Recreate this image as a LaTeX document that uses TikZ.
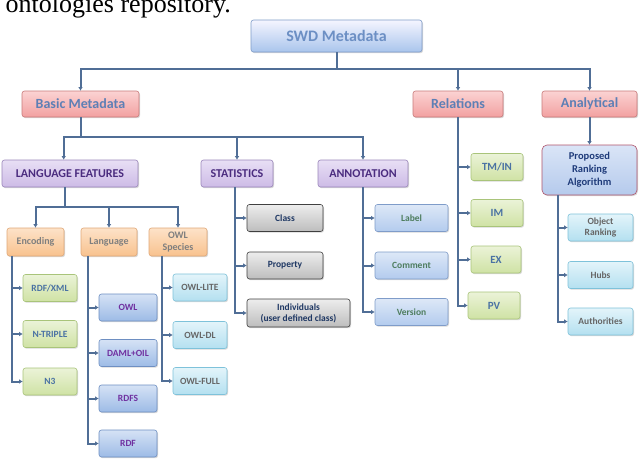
\documentclass[tikz,border=0pt]{standalone}
\usepackage{fontspec}
\setmainfont{Carlito}
\newfontfamily\captionserif{Liberation Serif}
\usetikzlibrary{arrows.meta,shadows}

\definecolor{linkcol}{HTML}{506E96}
\definecolor{swdtxt}{HTML}{6C8FC4}
\definecolor{redtxt}{HTML}{5D7FB5}
\definecolor{purtxt}{HTML}{4B2C7F}
\definecolor{oratxt}{HTML}{7F7F7F}
\definecolor{gretxt}{HTML}{4A72A3}
\definecolor{blutxt}{HTML}{7030A0}
\definecolor{cyatxt}{HTML}{666666}
\definecolor{grytxt}{HTML}{1F3864}
\definecolor{lbltxt}{HTML}{4E7D5E}
\definecolor{pratxt}{HTML}{1F3B7A}

\begin{document}
\begin{tikzpicture}[x=1pt, y=-1pt,
	box/.style={draw, rounded corners=2.5pt, line width=.6pt, align=center,
		inner sep=1pt, font=\bfseries\fontsize{9.5}{11}\selectfont,
		drop shadow={shadow xshift=1pt, shadow yshift=-1.2pt, opacity=.3}},
	swdbox/.style={box, top color=blue!4!white, bottom color={rgb,255:red,169;green,197;blue,236},
		draw={rgb,255:red,127;green,156;blue,201}, text=swdtxt, font=\bfseries\fontsize{16}{18}\selectfont},
	redbox/.style={box, top color={rgb,255:red,251;green,211;blue,211}, bottom color={rgb,255:red,242;green,160;blue,160},
		draw={rgb,255:red,200;green,122;blue,122}, text=redtxt, font=\bfseries\fontsize{14}{16}\selectfont,
		minimum height=26pt},
	purbox/.style={box, top color={rgb,255:red,232;green,223;blue,245}, bottom color={rgb,255:red,205;green,187;blue,230},
		draw={rgb,255:red,154;green,134;blue,186}, text=purtxt, font=\bfseries\fontsize{12}{14}\selectfont,
		minimum height=27pt},
	orabox/.style={box, top color={rgb,255:red,253;green,226;blue,200}, bottom color={rgb,255:red,248;green,194;blue,142},
		draw={rgb,255:red,224;green,168;blue,120}, text=oratxt, font=\bfseries\fontsize{10}{12}\selectfont,
		minimum height=28pt},
	grebox/.style={box, top color={rgb,255:red,235;green,243;blue,216}, bottom color={rgb,255:red,207;green,226;blue,164},
		draw={rgb,255:red,169;green,196;blue,122}, text=gretxt, minimum height=27pt},
	blubox/.style={box, top color={rgb,255:red,213;green,226;blue,245}, bottom color={rgb,255:red,157;green,187;blue,230},
		draw={rgb,255:red,110;green,143;blue,194}, text=blutxt, minimum width=58pt, minimum height=27pt},
	cyabox/.style={box, top color={rgb,255:red,227;green,244;blue,250}, bottom color={rgb,255:red,180;green,224;blue,240},
		draw={rgb,255:red,126;green,194;blue,218}, text=cyatxt, minimum height=27pt},
	grybox/.style={box, top color={rgb,255:red,237;green,237;blue,237}, bottom color={rgb,255:red,189;green,189;blue,189},
		draw={rgb,255:red,64;green,64;blue,64}, text=grytxt, minimum height=27pt},
	lblbox/.style={box, top color={rgb,255:red,221;green,232;blue,247}, bottom color={rgb,255:red,179;green,203;blue,238},
		draw={rgb,255:red,127;green,156;blue,201}, text=lbltxt, minimum width=73pt, minimum height=27pt},
	prabox/.style={box, top color={rgb,255:red,218;green,229;blue,247}, bottom color={rgb,255:red,181;green,202;blue,236},
		draw={rgb,255:red,176;green,84;blue,106}, text=pratxt, rounded corners=5pt,
		font=\bfseries\fontsize{10.5}{13}\selectfont},
	link/.style={draw=linkcol, line width=2pt, -{Latex[length=3.5pt,width=4.5pt]}}]
	\fill[white] (0,0) rectangle (640,461);
	\clip (0,0) rectangle (640,461);
	
	\node[anchor=base east, inner sep=0, font=\captionserif\fontsize{26}{26}\selectfont] (caption) at (231,12) {ontologies repository.};
	
	\node[swdbox, minimum width=171pt, minimum height=32pt] (swd) at (336.5,36) {SWD Metadata};
	
	\node[redbox, minimum width=117pt] (basic) at (80.5,104) {Basic Metadata};
	\node[redbox, minimum width=90pt] (rel) at (458,104) {Relations};
	\node[redbox, minimum width=95pt] (ana) at (589.5,104) {Analytical};
	
	\node[purbox, minimum width=136pt] (lf) at (70,173.5) {LANGUAGE FEATURES};
	\node[purbox, minimum width=72pt] (stat) at (237,173.5) {STATISTICS};
	\node[purbox, minimum width=90pt] (annot) at (363,173.5) {ANNOTATION};
	
	\node[prabox, minimum width=95pt, minimum height=50pt] (pra) at (589.5,170) {Proposed\\Ranking\\Algorithm};
	
	\node[orabox, minimum width=57pt] (enc) at (35.5,242) {Encoding};
	\node[orabox, minimum width=56pt] (lang) at (109,242) {Language};
	\node[orabox, minimum width=58pt] (owls) at (178,242) {OWL\\Species};
	
	\node[grebox, minimum width=54pt] (rdfxml) at (50,288) {RDF/XML};
	\node[grebox, minimum width=54pt] (ntriple) at (50,334) {N-TRIPLE};
	\node[grebox, minimum width=54pt] (nthree) at (50,381.5) {N3};
	
	\node[blubox] (owl) at (128,307.5) {OWL};
	\node[blubox] (daml) at (128,353) {DAML+OIL};
	\node[blubox] (rdfs) at (128,398.5) {RDFS};
	\node[blubox] (rdf) at (128,443.5) {RDF};
	
	\node[cyabox, minimum width=54pt] (owllite) at (200,287.5) {OWL-LITE};
	\node[cyabox, minimum width=54pt] (owldl) at (200,335) {OWL-DL};
	\node[cyabox, minimum width=54pt] (owlfull) at (200,381) {OWL-FULL};
	
	\node[grybox, minimum width=76pt] (class) at (285,218) {Class};
	\node[grybox, minimum width=76pt] (prop) at (285,265.5) {Property};
	\node[grybox, minimum width=103pt, minimum height=28pt] (indiv) at (298.5,313) {Individuals\\(user defined class)};
	
	\node[lblbox] (label) at (411.5,218) {Label};
	\node[lblbox] (comment) at (411.5,265.5) {Comment};
	\node[lblbox] (version) at (411.5,312) {Version};
	
	\node[grebox, minimum width=52pt, font=\bfseries\fontsize{11}{13}\selectfont] (tmin) at (497,167) {TM/IN};
	\node[grebox, minimum width=52pt, font=\bfseries\fontsize{11}{13}\selectfont] (im) at (497,213) {IM};
	\node[grebox, minimum width=50pt, font=\bfseries\fontsize{11}{13}\selectfont] (ex) at (496,259.5) {EX};
	\node[grebox, minimum width=52pt, font=\bfseries\fontsize{11}{13}\selectfont] (pv) at (494,305.5) {PV};
	
	\node[cyabox, minimum width=65pt] (objr) at (600.5,227.5) {Object\\Ranking};
	\node[cyabox, minimum width=65pt] (hubs) at (600.5,275) {Hubs};
	\node[cyabox, minimum width=65pt] (auth) at (600.5,321.5) {Authorities};
	
	%========================================================================
	% Arrows
	\foreach \kid in {basic,rel,ana}
		\draw[link] (swd.south) -- ++(0,17) -| (\kid.north);
	\draw[link] (basic.south) -- ++(0,20) -| ([xshift=62pt]lf.north west);
	\draw[link] (basic.south) -- ++(0,20) -| (stat.north);
	\draw[link] (basic.south) -- ++(0,20) -| (annot.north);
	\foreach \kid in {enc,lang,owls}
		\draw[link] ([xshift=63pt]lf.south west) -- ++(0,20) -| (\kid.north);
	\draw[link] (ana) -- (pra);
	
	\foreach \kid in {rdfxml,ntriple,nthree}
		\draw[link] ([xshift=5pt]enc.south west) |- (\kid.west);
	\foreach \kid in {owl,daml,rdfs,rdf}
		\draw[link] ([xshift=7pt]lang.south west) |- (\kid.west);
	\foreach \kid in {owllite,owldl,owlfull}
		\draw[link] ([xshift=13pt]owls.south west) |- (\kid.west);
	\foreach \kid in {class,prop,indiv}
		\draw[link] ([xshift=34pt]stat.south west) |- (\kid.west);
	\foreach \kid in {label,comment,version}
		\draw[link] (annot.south) |- (\kid.west);
	\foreach \kid in {tmin,im,ex,pv}
		\draw[link] (rel.south) |- (\kid.west);
	\foreach \kid in {objr,hubs,auth}
		\draw[link] ([xshift=16pt]pra.south west) |- (\kid.west);
\end{tikzpicture}
\end{document}
